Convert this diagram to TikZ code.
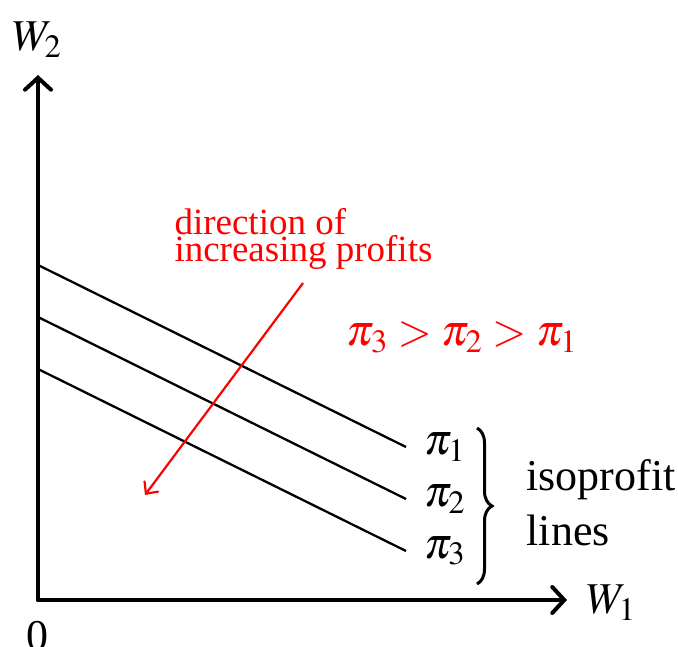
\documentclass[tikz,border=0pt]{standalone}
\usepackage{mathptmx}
\usepackage{fontspec}
\setmainfont{Liberation Serif}
\usetikzlibrary{arrows.meta,decorations.pathreplacing}
\begin{document}
\begin{tikzpicture}[x=1pt,y=-1pt,
  axis/.style={line width=4pt,line cap=round,-{Straight Barb[length=12pt,width=26pt,line cap=round]}},
  iso/.style={line width=2.3pt},
  redarrow/.style={red,line width=2.2pt,-{Straight Barb[length=9pt,width=17pt,line cap=round]}},
  big/.style={font=\fontsize{44}{55}\selectfont},
  redtxt/.style={red,font=\fontsize{37}{27}\selectfont,align=left}]
\useasboundingbox (0,0) rectangle (678,646);
% axes
\coordinate (O) at (38,600);
\coordinate (ytip) at (38,75);
\coordinate (xtip) at (567,600);
\draw[axis] (O) -- (ytip);
\draw[axis] (O) -- (xtip);
\node[big] (W2) at (37,40) {$W_2$};
\node[big,anchor=west] (W1) at (583,603) {$W_1$};
\node[big] (zero) at (38,636) {0};
% isoprofit lines
\coordinate (a1) at (38,265); \coordinate (b1) at (406,447);
\coordinate (a2) at (38,317); \coordinate (b2) at (406,499);
\coordinate (a3) at (38,369); \coordinate (b3) at (406,551);
\draw[iso] (a1) -- (b1);
\draw[iso] (a2) -- (b2);
\draw[iso] (a3) -- (b3);
\node[big,anchor=west,inner sep=0pt] (p1) at (424,447) {$\pi_1$};
\node[big,anchor=west,inner sep=0pt] (p2) at (424,499) {$\pi_2$};
\node[big,anchor=west,inner sep=0pt] (p3) at (424,551) {$\pi_3$};
% brace
\coordinate (bt) at (477,428);
\coordinate (bb) at (477,584);
\draw[line width=3pt,decorate,decoration={brace,amplitude=15pt}] (bt) -- (bb);
\node[big,anchor=west,align=left] (iso) at (523,503) {isoprofit\\lines};
% direction arrow
\coordinate (rs) at (303,283);
\coordinate (re) at (145,495);
\draw[redarrow] (rs) -- (re);
\node[redtxt,anchor=west] (dir) at (171,239) {direction of\\increasing profits};
\node[red,big] (ord) at (462,337) {$\pi_3>\pi_2>\pi_1$};
\end{tikzpicture}
\end{document}
